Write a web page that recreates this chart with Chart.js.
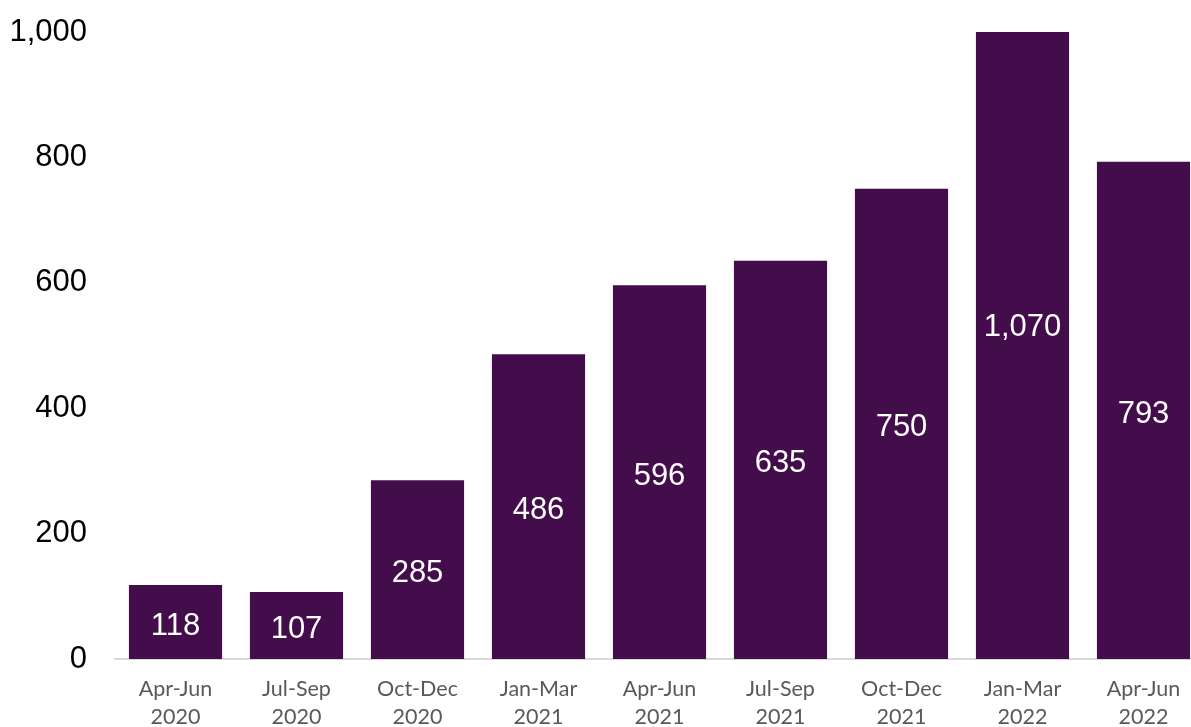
<!DOCTYPE html>
<html>
<head>
<meta charset="utf-8">
<script src="https://cdn.jsdelivr.net/npm/chart.js@4/dist/chart.umd.min.js"></script>
<style>
    html, body { margin: 0; padding: 0; background: #fff; overflow: hidden; }
    #wrap { width: 1204px; height: 727px; position: relative; }
</style>
</head>
<body>
<div id="wrap"><canvas id="quarterChart"></canvas></div>
<script>
// Quarters and counts
const quarters = [
    ['Apr-Jun', '2020'], ['Jul-Sep', '2020'], ['Oct-Dec', '2020'],
    ['Jan-Mar', '2021'], ['Apr-Jun', '2021'], ['Jul-Sep', '2021'],
    ['Oct-Dec', '2021'], ['Jan-Mar', '2022'], ['Apr-Jun', '2022']
];
const counts = [118, 107, 285, 486, 596, 635, 750, 1070, 793];
const yTicks = [0, 200, 400, 600, 800, 1000];

// Writes each value in white at the middle of its bar
const barValues = {
    id: 'barValues',
    afterDatasetsDraw(chart) {
        const ctx = chart.ctx;
        const meta = chart.getDatasetMeta(0);
        ctx.save();
        ctx.fillStyle = '#ffffff';
        ctx.font = '31px "Liberation Sans", Arial, sans-serif';
        ctx.textAlign = 'center';
        ctx.textBaseline = 'middle';
        meta.data.forEach((bar, i) => {
            const y = (bar.y + bar.base) / 2 + 4;
            ctx.fillText(counts[i].toLocaleString('en-US'), bar.x, y);
        });
        ctx.restore();
    }
};

document.addEventListener('DOMContentLoaded', function () {
    const ctx = document.getElementById('quarterChart').getContext('2d');
    new Chart(ctx, {
        type: 'bar',
        data: {
            labels: quarters,
            datasets: [{
                data: counts,
                backgroundColor: '#430c4b',
                borderWidth: 0,
                barPercentage: 0.77,
                categoryPercentage: 1.0
            }]
        },
        options: {
            responsive: true,
            maintainAspectRatio: false,
            animation: false,
            layout: { padding: { top: 32, right: 0, left: 0, bottom: 0 } },
            plugins: {
                legend: { display: false },
                tooltip: { enabled: false }
            },
            scales: {
                y: {
                    min: 0,
                    max: 1000,
                    afterFit: s => {
                        s.width = 115;
                        s.paddingTop = 0;
                        s.paddingBottom = 0;
                    },
                    afterBuildTicks: s => { s.ticks = yTicks.map(v => ({ value: v })); },
                    grid: { display: false, drawTicks: false },
                    border: { display: false },
                    ticks: {
                        padding: 28,
                        color: '#000000',
                        font: { family: '"Liberation Sans", Arial, sans-serif', size: 31 },
                        callback: v => v.toLocaleString('en-US')
                    }
                },
                x: {
                    afterFit: s => {
                        s.height = 68;
                        s.paddingLeft = 0;
                        s.paddingRight = 0;
                    },
                    grid: { display: false, drawTicks: false },
                    border: { display: true, color: '#d9d9d9', width: 2 },
                    ticks: {
                        padding: 16,
                        maxRotation: 0,
                        autoSkip: false,
                        color: '#595959',
                        font: { family: 'Lato, "Open Sans", sans-serif', size: 21.5, lineHeight: 1.3 }
                    }
                }
            }
        },
        plugins: [barValues]
    });
});
</script>
</body>
</html>
